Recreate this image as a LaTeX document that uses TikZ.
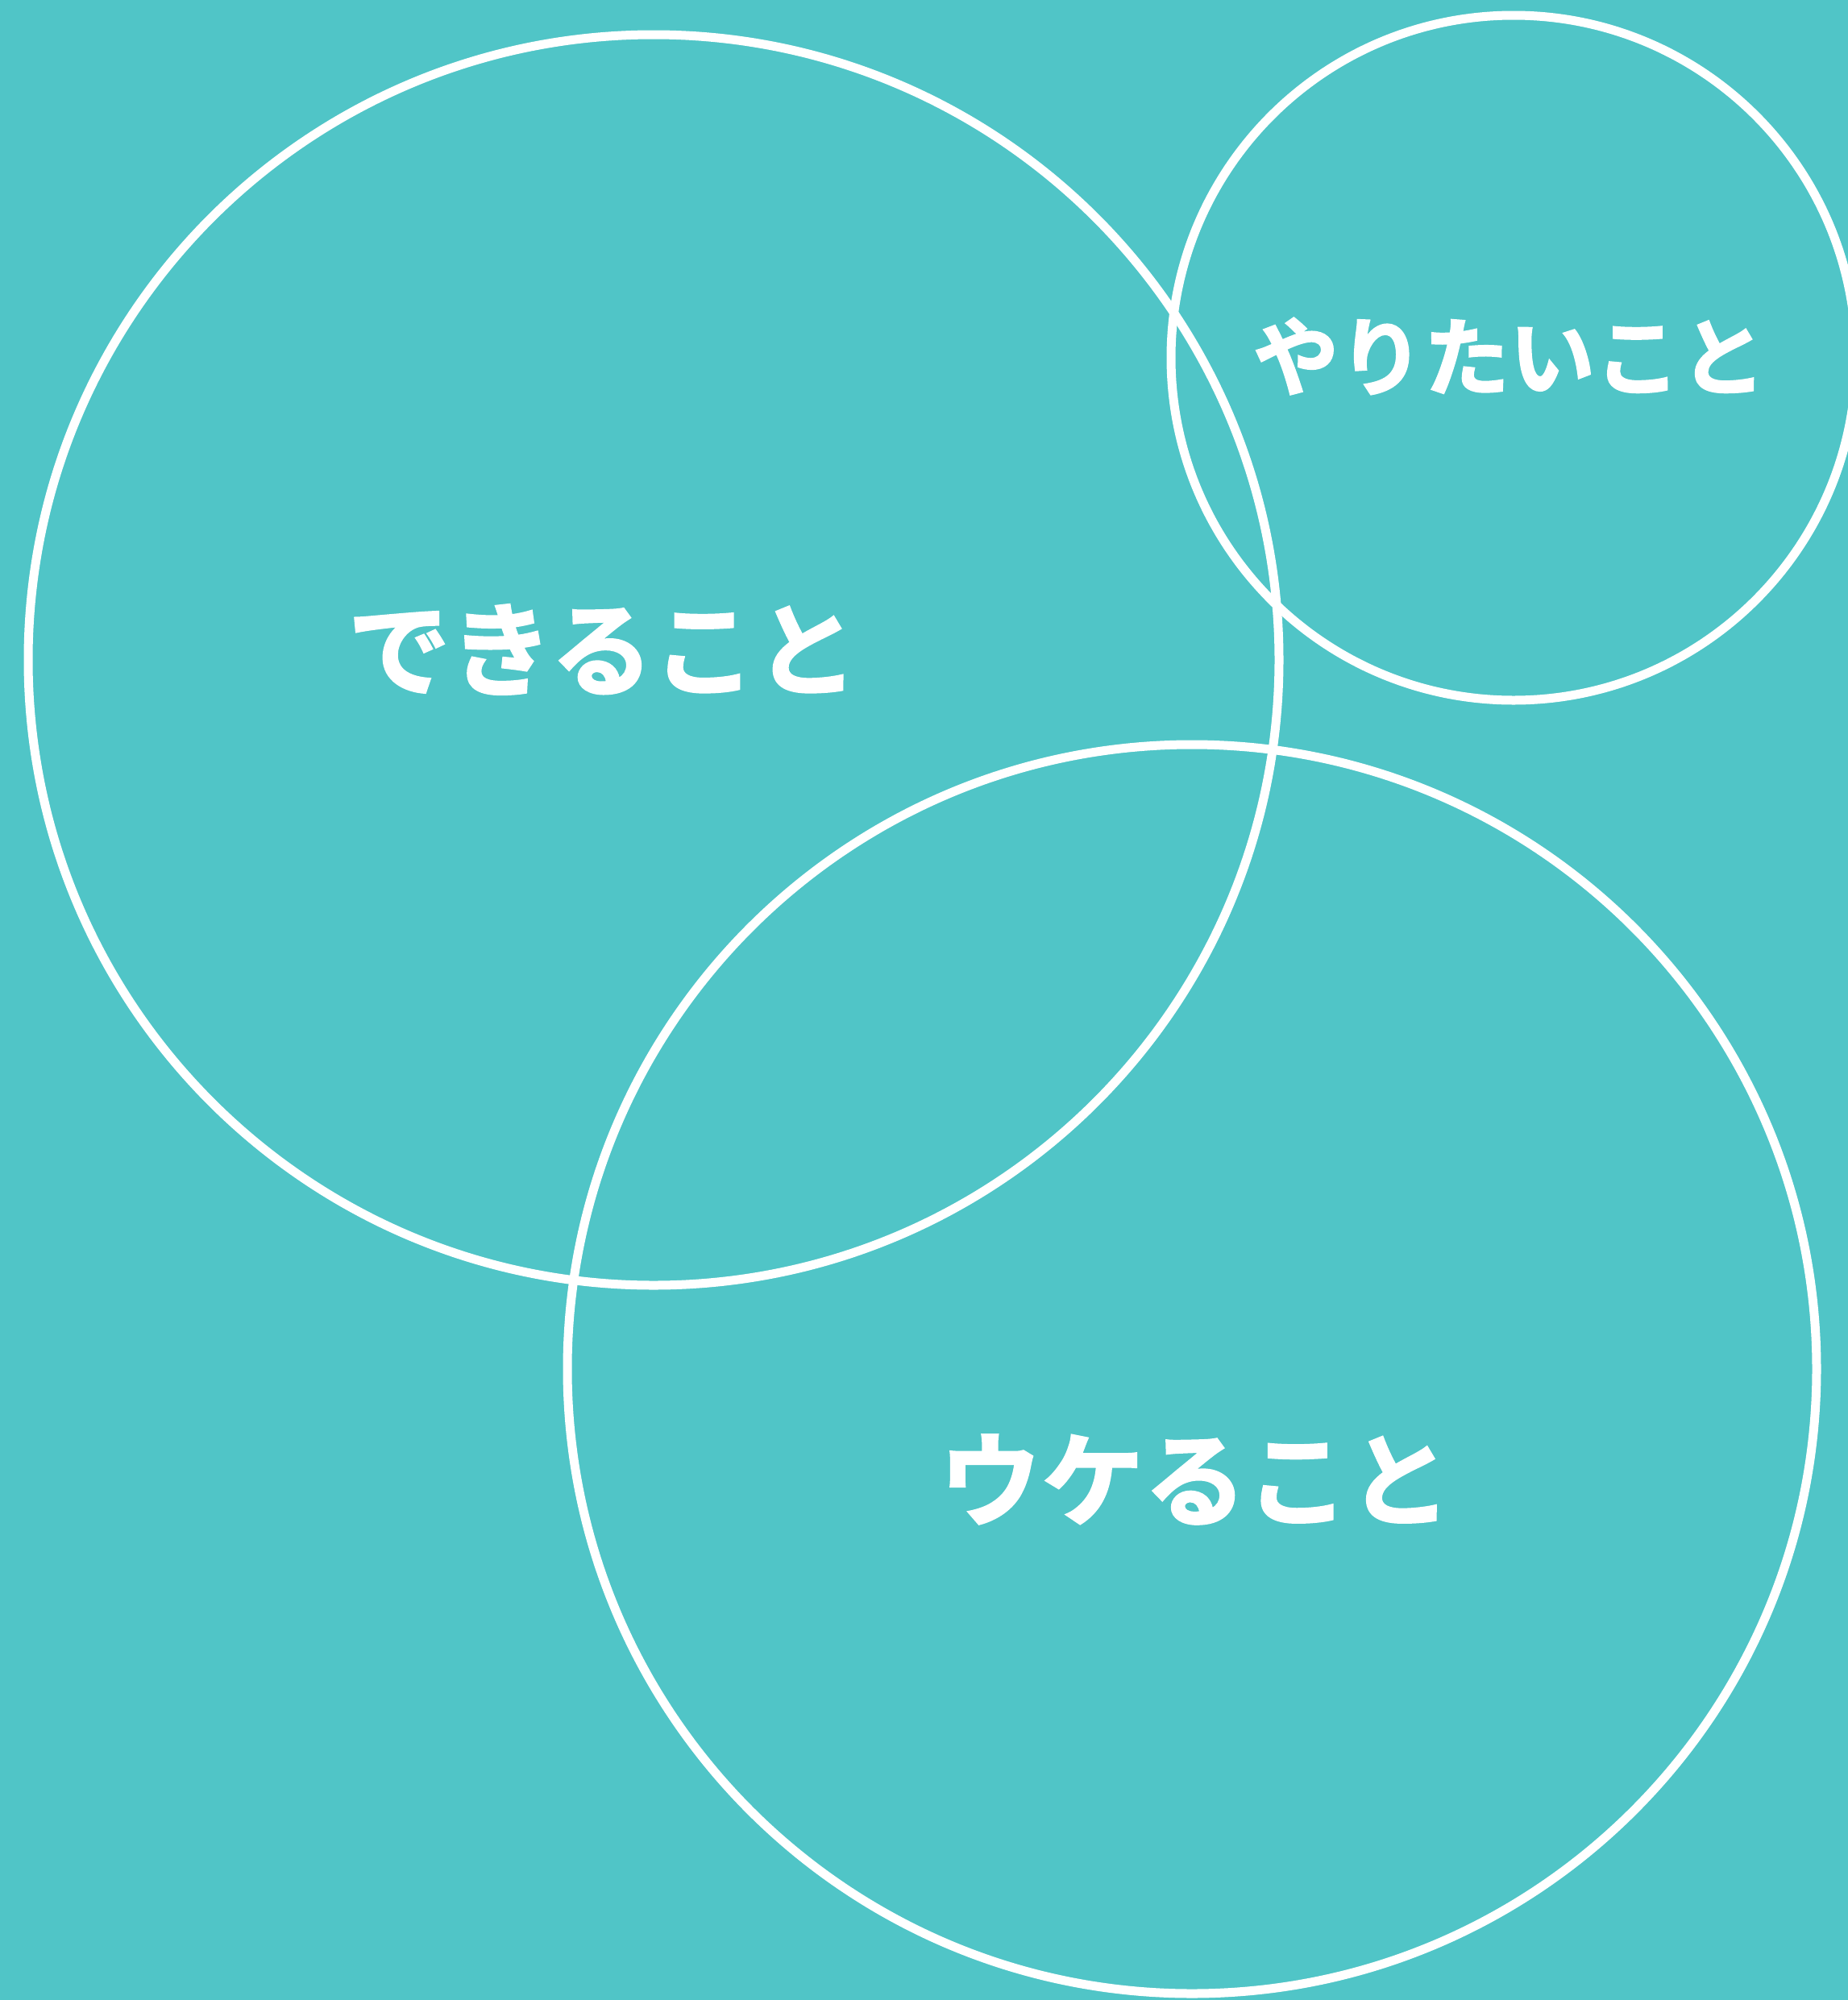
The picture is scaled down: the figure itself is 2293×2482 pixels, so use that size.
\documentclass[tikz,border=0pt]{standalone}
\usepackage{fontspec}
\newfontfamily\cjk{Noto Sans CJK JP}[BoldFont={Noto Sans CJK JP Bold},BoldFeatures={FakeBold=2}]
\definecolor{bgteal}{HTML}{50C5C7}
\begin{document}
\begin{tikzpicture}[x=1pt,y=-1pt,
  ring/.style={draw=white,line width=11pt},
  lbl/.style={text=white,font=\cjk\bfseries,inner sep=0pt}]
\fill[bgteal] (0,0) rectangle (2293,2482);
\useasboundingbox (0,0) rectangle (2293,2482);
\clip (0,0) rectangle (2293,2482);
\node[ring,circle,minimum size=1552pt,inner sep=0pt] (dekiru) at (811,819) {};
\node[ring,circle,minimum size=850pt,inner sep=0pt] (yaritai) at (1878,444) {};
\node[ring,circle,minimum size=1550pt,inner sep=0pt] (ukeru) at (1479,1699) {};
\node[lbl,font=\cjk\bfseries\fontsize{127}{130}\selectfont] (t1) at (748,806) {できること};
\node[lbl,font=\cjk\bfseries\fontsize{106}{110}\selectfont] (t2) at (1873,442) {やりたいこと};
\node[lbl,font=\cjk\bfseries\fontsize{127}{130}\selectfont] (t3) at (1483,1836) {ウケること};
\end{tikzpicture}
\end{document}
